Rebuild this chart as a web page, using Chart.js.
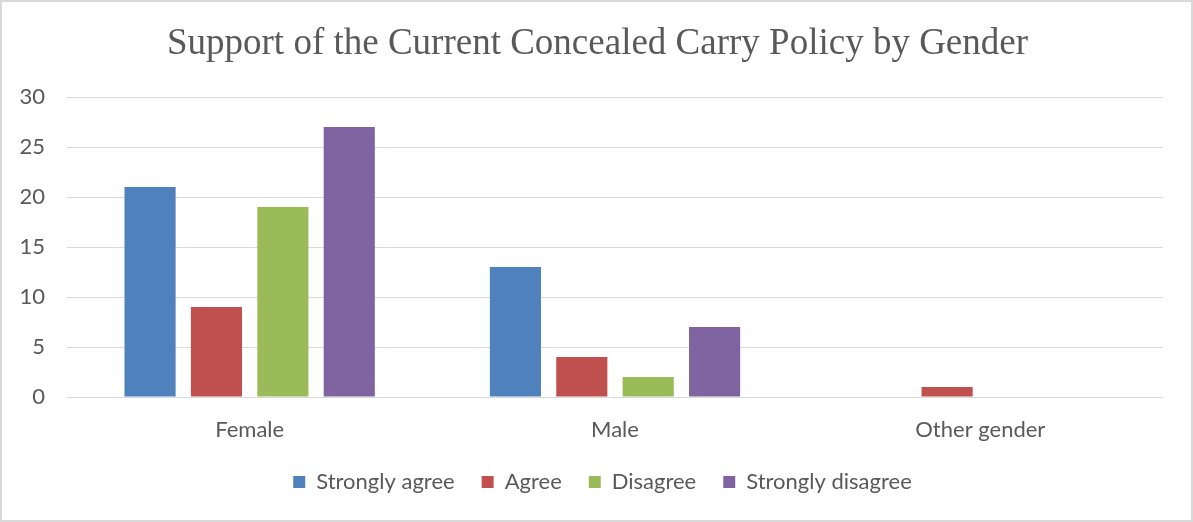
<!DOCTYPE html>
<html lang="en">
<head>
  <meta charset="UTF-8">
  <title>Support of the Current Concealed Carry Policy by Gender</title>
  <script src="https://cdn.jsdelivr.net/npm/chart.js"></script>
  <style>
    html, body { margin: 0; padding: 0; background: #fff; }
    #frame {
      position: absolute; left: 0; top: 0;
      width: 1193px; height: 522px;
      box-sizing: border-box;
      border: 2px solid #d9d9d9;
    }
    #frame canvas { display: block; }
  </style>
</head>
<body>
  <div id="frame">
    <canvas id="genderChart" width="1189" height="518"></canvas>
  </div>

  <script>
    const genders = ["Female", "Male", "Other gender"];
    const responses = ["Strongly agree", "Agree", "Disagree", "Strongly disagree"];
    const stronglyAgree = [21, 13, 0];
    const agree = [9, 4, 1];
    const disagree = [19, 2, 0];
    const stronglyDisagree = [27, 7, 0];
    const colors = ["#4f81bd", "#c0504d", "#9bbb59", "#8064a2"];

    const seriesValues = [stronglyAgree, agree, disagree, stronglyDisagree];
    const textGray = "#595959";
    const labelFont = { family: "Lato", size: 22 };
    const xAxisHeight = 47;

    // title and legend center on the padded canvas; shift them a bit right,
    // and hang the legend just under the category labels
    const nudgeBoxes = {
      id: "nudgeBoxes",
      afterLayout(chart) {
        const t = chart.titleBlock, l = chart.legend;
        t.left += 10; t.right += 10;
        l.left += 15; l.right += 15;
        const dy = chart.chartArea.bottom + xAxisHeight - l.top;
        l.top += dy; l.bottom += dy;
      }
    };

    new Chart(document.getElementById("genderChart"), {
      type: "bar",
      data: {
        labels: genders,
        datasets: responses.map((name, i) => ({
          label: name,
          data: seriesValues[i],
          backgroundColor: colors[i],
          borderWidth: 0,
          categoryPercentage: 0.727,
          barPercentage: 0.77
        }))
      },
      options: {
        responsive: false,
        animation: false,
        layout: { padding: { top: 19, left: 10, right: 28, bottom: 17 } },
        plugins: {
          title: {
            display: true,
            text: "Support of the Current Concealed Carry Policy by Gender",
            color: textGray,
            font: { family: "Liberation Serif", size: 37, weight: "normal" },
            padding: { top: 1, bottom: 30.6 }
          },
          legend: {
            position: "bottom",
            labels: {
              color: textGray,
              font: labelFont,
              boxWidth: 12,
              boxHeight: 12,
              padding: 27
            }
          },
          tooltip: { enabled: false }
        },
        scales: {
          x: {
            afterFit: axis => { axis.height = xAxisHeight; },
            grid: { display: false, drawTicks: false },
            border: { display: false },
            ticks: { color: textGray, font: labelFont, padding: 20 }
          },
          y: {
            min: 0,
            max: 30,
            afterFit: axis => { axis.width = 55; },
            grid: { color: "#d9d9d9", drawTicks: false },
            border: { display: false },
            ticks: { stepSize: 5, color: textGray, font: labelFont, padding: 22 }
          }
        }
      },
      plugins: [nudgeBoxes]
    });
  </script>
</body>
</html>
